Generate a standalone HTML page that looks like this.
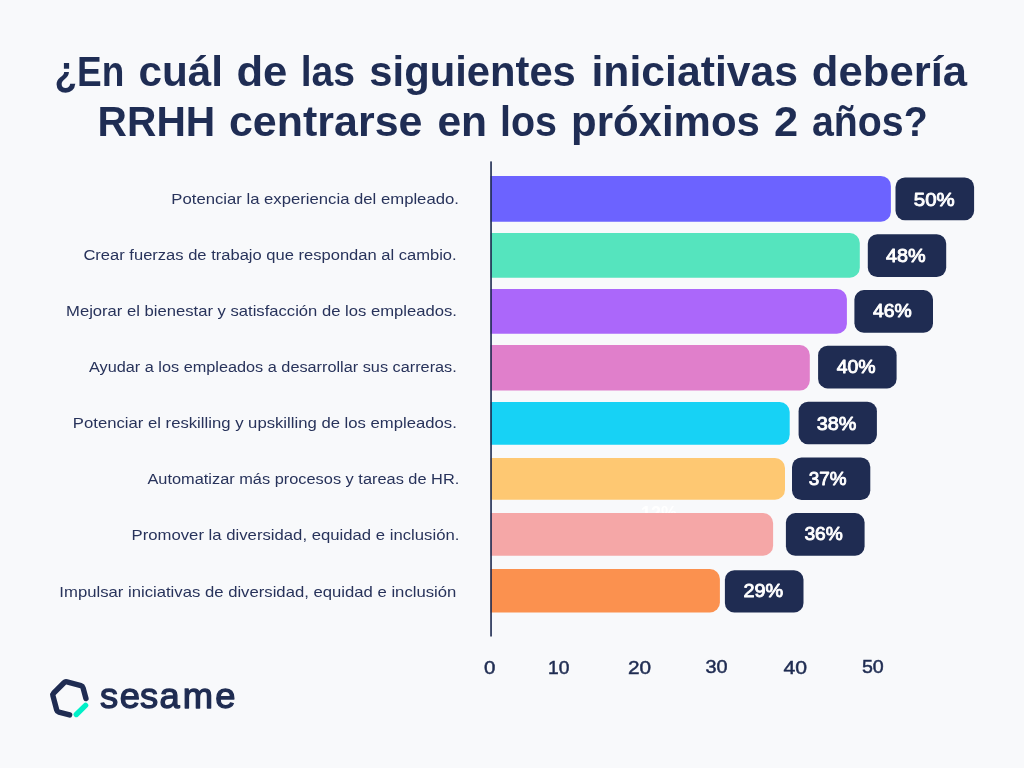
<!DOCTYPE html>
<html lang="es"><head><meta charset="utf-8"><title>Iniciativas RRHH</title>
<style>
html,body{margin:0;padding:0;background:#F8F9FB;}
body{width:1024px;height:768px;overflow:hidden;}
svg{display:block;font-family:"Liberation Sans",sans-serif;}
</style></head><body>
<svg width="1024" height="768" viewBox="0 0 1024 768">
<rect width="1024" height="768" fill="#F8F9FB"/>
<text x="641" y="519" font-size="18" font-weight="bold" fill="#FFFFFF">12%</text>
<path d="M490.5 175.9 H880.9 A10.0 10.0 0 0 1 890.9 185.9 V211.8 A10.0 10.0 0 0 1 880.9 221.8 H490.5 Z" fill="#6C63FF"/>
<path d="M490.5 233.0 H849.8 A10.0 10.0 0 0 1 859.8 243.0 V267.8 A10.0 10.0 0 0 1 849.8 277.8 H490.5 Z" fill="#55E4BE"/>
<path d="M490.5 289.1 H836.9 A10.0 10.0 0 0 1 846.9 299.1 V323.75 A10.0 10.0 0 0 1 836.9 333.75 H490.5 Z" fill="#AB67FA"/>
<path d="M490.5 345.1 H799.8 A10.0 10.0 0 0 1 809.8 355.1 V380.6 A10.0 10.0 0 0 1 799.8 390.6 H490.5 Z" fill="#E07FCB"/>
<path d="M490.5 402.0 H779.7 A10.0 10.0 0 0 1 789.7 412.0 V434.7 A10.0 10.0 0 0 1 779.7 444.7 H490.5 Z" fill="#17D2F5"/>
<path d="M490.5 458.0 H775.0 A10.0 10.0 0 0 1 785.0 468.0 V489.8 A10.0 10.0 0 0 1 775.0 499.8 H490.5 Z" fill="#FEC872"/>
<path d="M490.5 513.1 H763.1 A10.0 10.0 0 0 1 773.1 523.1 V545.7 A10.0 10.0 0 0 1 763.1 555.7 H490.5 Z" fill="#F5A7A7"/>
<path d="M490.5 569.0 H709.9 A10.0 10.0 0 0 1 719.9 579.0 V602.5 A10.0 10.0 0 0 1 709.9 612.5 H490.5 Z" fill="#FB914F"/>
<rect x="895.5" y="177.5" width="78.60" height="42.70" rx="9.5" fill="#1F2C52"/>
<rect x="867.8" y="234.3" width="78.40" height="42.70" rx="9.5" fill="#1F2C52"/>
<rect x="854.4" y="290.1" width="78.60" height="42.70" rx="9.5" fill="#1F2C52"/>
<rect x="818.1" y="345.8" width="78.50" height="42.60" rx="9.5" fill="#1F2C52"/>
<rect x="798.6" y="401.7" width="78.30" height="42.50" rx="9.5" fill="#1F2C52"/>
<rect x="792.0" y="457.5" width="78.30" height="42.50" rx="9.5" fill="#1F2C52"/>
<rect x="785.9" y="513.1" width="78.70" height="42.60" rx="9.5" fill="#1F2C52"/>
<rect x="724.9" y="570.3" width="78.60" height="42.20" rx="9.5" fill="#1F2C52"/>
<rect x="490.1" y="161.4" width="1.9" height="475.1" fill="#1F2C52" opacity="0.86"/>
<path d="M85.95 698.55 L83.08 687.84 Q82.63 686.17 80.96 685.72 L66.91 681.96 Q65.24 681.51 64.02 682.74 L53.74 693.02 Q52.51 694.24 52.96 695.91 L56.72 709.96 Q57.17 711.63 58.84 712.07 L69.60 714.95" fill="none" stroke="#1F2C52" stroke-width="5.4" stroke-linecap="round" stroke-linejoin="round"/>
<path d="M76.3 714.5 L85.6 705.3" fill="none" stroke="#00F0C8" stroke-width="5.4" stroke-linecap="round"/>
<text transform="translate(54.50 85.90) scale(0.8767 1)" font-size="42.2" font-weight="bold" fill="#1F2D54" >¿En</text>
<text transform="translate(138.40 85.90) scale(1.0025 1)" font-size="42.2" font-weight="bold" fill="#1F2D54" >cuál</text>
<text transform="translate(236.47 85.90) scale(1.0341 1)" font-size="42.2" font-weight="bold" fill="#1F2D54" >de</text>
<text transform="translate(300.64 85.90) scale(0.9278 1)" font-size="42.2" font-weight="bold" fill="#1F2D54" >las</text>
<text transform="translate(369.31 85.90) scale(0.9899 1)" font-size="42.2" font-weight="bold" fill="#1F2D54" >siguientes</text>
<text transform="translate(591.47 85.90) scale(1.0127 1)" font-size="42.2" font-weight="bold" fill="#1F2D54" >iniciativas</text>
<text transform="translate(811.87 85.90) scale(1.0341 1)" font-size="42.2" font-weight="bold" fill="#1F2D54" >debería</text>
<text transform="translate(97.57 135.70) scale(0.9651 1)" font-size="42.2" font-weight="bold" fill="#1F2D54" >RRHH</text>
<text transform="translate(228.98 135.70) scale(1.0180 1)" font-size="42.2" font-weight="bold" fill="#1F2D54" >centrarse</text>
<text transform="translate(437.39 135.70) scale(1.0094 1)" font-size="42.2" font-weight="bold" fill="#1F2D54" >en</text>
<text transform="translate(500.03 135.70) scale(0.9341 1)" font-size="42.2" font-weight="bold" fill="#1F2D54" >los</text>
<text transform="translate(571.01 135.70) scale(0.9945 1)" font-size="42.2" font-weight="bold" fill="#1F2D54" >próximos</text>
<text transform="translate(773.97 135.70) scale(1.0286 1)" font-size="42.2" font-weight="bold" fill="#1F2D54" >2</text>
<text transform="translate(811.97 135.70) scale(0.9311 1)" font-size="42.2" font-weight="bold" fill="#1F2D54" >años?</text>
<text transform="translate(171.34 204.40) scale(1.1598 1)" font-size="14.4" font-weight="normal" fill="#28335B" >Potenciar la experiencia del empleado.</text>
<text transform="translate(83.40 260.30) scale(1.1495 1)" font-size="14.4" font-weight="normal" fill="#28335B" >Crear fuerzas de trabajo que respondan al cambio.</text>
<text transform="translate(66.05 315.80) scale(1.1547 1)" font-size="14.4" font-weight="normal" fill="#28335B" >Mejorar el bienestar y satisfacción de los empleados.</text>
<text transform="translate(89.00 371.70) scale(1.1305 1)" font-size="14.4" font-weight="normal" fill="#28335B" >Ayudar a los empleados a desarrollar sus carreras.</text>
<text transform="translate(72.84 428.00) scale(1.1599 1)" font-size="14.4" font-weight="normal" fill="#28335B" >Potenciar el reskilling y upskilling de los empleados.</text>
<text transform="translate(147.40 484.00) scale(1.1371 1)" font-size="14.4" font-weight="normal" fill="#28335B" >Automatizar más procesos y tareas de HR.</text>
<text transform="translate(131.54 540.20) scale(1.1609 1)" font-size="14.4" font-weight="normal" fill="#28335B" >Promover la diversidad, equidad e inclusión.</text>
<text transform="translate(59.34 597.00) scale(1.1601 1)" font-size="14.4" font-weight="normal" fill="#28335B" >Impulsar iniciativas de diversidad, equidad e inclusión</text>
<text transform="translate(913.85 205.90) scale(1.0752 1)" font-size="19.0" font-weight="normal" fill="#FFFFFF" stroke="#FFFFFF" stroke-width="0.9" stroke-linejoin="round">50%</text>
<text transform="translate(886.05 261.90) scale(1.0437 1)" font-size="19.0" font-weight="normal" fill="#FFFFFF" stroke="#FFFFFF" stroke-width="0.9" stroke-linejoin="round">48%</text>
<text transform="translate(872.95 317.00) scale(1.0201 1)" font-size="19.0" font-weight="normal" fill="#FFFFFF" stroke="#FFFFFF" stroke-width="0.9" stroke-linejoin="round">46%</text>
<text transform="translate(836.70 373.40) scale(1.0253 1)" font-size="19.0" font-weight="normal" fill="#FFFFFF" stroke="#FFFFFF" stroke-width="0.9" stroke-linejoin="round">40%</text>
<text transform="translate(816.70 430.20) scale(1.0424 1)" font-size="19.0" font-weight="normal" fill="#FFFFFF" stroke="#FFFFFF" stroke-width="0.9" stroke-linejoin="round">38%</text>
<text transform="translate(808.85 484.80) scale(0.9939 1)" font-size="19.0" font-weight="normal" fill="#FFFFFF" stroke="#FFFFFF" stroke-width="0.9" stroke-linejoin="round">37%</text>
<text transform="translate(804.45 539.75) scale(1.0096 1)" font-size="19.0" font-weight="normal" fill="#FFFFFF" stroke="#FFFFFF" stroke-width="0.9" stroke-linejoin="round">36%</text>
<text transform="translate(743.55 597.10) scale(1.0437 1)" font-size="19.0" font-weight="normal" fill="#FFFFFF" stroke="#FFFFFF" stroke-width="0.9" stroke-linejoin="round">29%</text>
<text transform="translate(484.00 673.80) scale(1.1000 1)" font-size="18.6" font-weight="normal" fill="#1F2C52" stroke="#1F2C52" stroke-width="0.5">0</text>
<text transform="translate(548.07 673.80) scale(1.0341 1)" font-size="18.6" font-weight="normal" fill="#1F2C52" stroke="#1F2C52" stroke-width="0.5">10</text>
<text transform="translate(628.00 673.80) scale(1.1160 1)" font-size="18.6" font-weight="normal" fill="#1F2C52" stroke="#1F2C52" stroke-width="0.5">20</text>
<text transform="translate(705.50 672.90) scale(1.0668 1)" font-size="18.6" font-weight="normal" fill="#1F2C52" stroke="#1F2C52" stroke-width="0.5">30</text>
<text transform="translate(783.50 673.80) scale(1.1406 1)" font-size="18.6" font-weight="normal" fill="#1F2C52" stroke="#1F2C52" stroke-width="0.5">40</text>
<text transform="translate(861.90 672.90) scale(1.0570 1)" font-size="18.6" font-weight="normal" fill="#1F2C52" stroke="#1F2C52" stroke-width="0.5">50</text>
<text transform="scale(1.0500 1)" x="95.17 114.12 133.40 151.98 174.17 205.12" y="708.2" font-size="34.6" fill="#1F2C52" stroke="#1F2C52" stroke-width="1.3" stroke-linejoin="round">sesame</text>
</svg>
</body></html>
